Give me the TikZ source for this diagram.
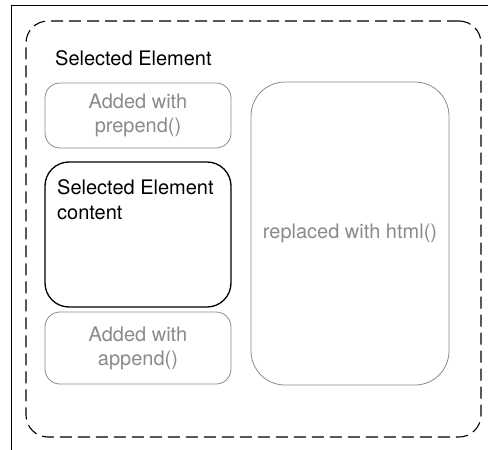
\documentclass[tikz,border=0pt]{standalone}
\usepackage{fontspec}
\setmainfont{TeX Gyre Heros}
\usetikzlibrary{positioning}
\definecolor{addgray}{HTML}{8A8A8A}

\tikzset{
    selbox/.style = {draw, dashed, dash pattern=on 12pt off 6pt, line width=1.1pt, rounded corners=22pt},
    addbox/.style = {draw=addgray, text=addgray, line width=0.8pt, rounded corners=15pt,
                     minimum width=186pt, align=center},
    contentbox/.style = {draw, line width=1.3pt, rounded corners=24pt, minimum width=186pt, minimum height=145pt},
    htmlbox/.style = {draw=addgray, text=addgray, line width=0.8pt, rounded corners=34pt,
                      minimum width=198pt, minimum height=303pt}
}

\begin{document}
\begin{tikzpicture}[x=1pt, y=-1pt, font=\fontsize{20}{24}\selectfont]
    \useasboundingbox (0,0) rectangle (488,450);
    \draw[line width=0.9pt] (11,450) -- (11,5) -- (488,5);

    \node[selbox, minimum width=455pt, minimum height=416pt] (selected) at (253.5,229) {};
    \node[anchor=base west, inner sep=0] (title) at (55,65) {Selected Element};

    \node[addbox, minimum height=65pt] (prepend) at (138,115.5) {Added with\\prepend()};
    \node[contentbox] (content) at (138,234.5) {};
    \node[anchor=north west, inner sep=0, align=left, font=\fontsize{20}{25}\selectfont] (contenttext)
        at (57,179) {Selected Element\\content};
    \node[addbox, minimum height=72pt] (append) at (138,348) {Added with\\append()};

    \node[htmlbox] (html) at (350,233.5) {replaced with html()};
\end{tikzpicture}
\end{document}
